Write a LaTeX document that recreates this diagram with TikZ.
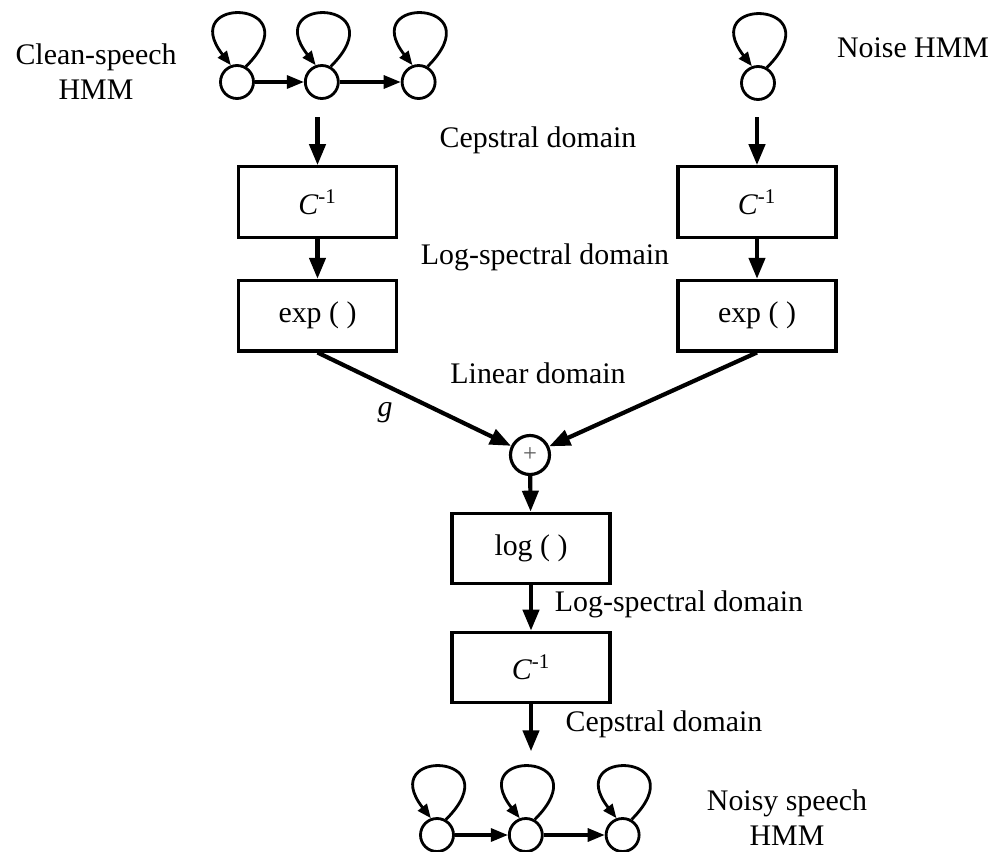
\documentclass[tikz,border=0pt]{standalone}
\usepackage{fontspec}
\setmainfont{Liberation Serif}
\usepackage{tikz}
\usetikzlibrary{shapes, arrows.meta,}
\usetikzlibrary{positioning}
\tikzset{
    process/.style = {
        rectangle,
        minimum width=3.16cm,
        minimum height=1.41cm,
        align=center,
        line width=1.8pt,
        draw,
    },
    hmmstate/.style = {
        circle,
        minimum size=0.66cm,
        inner sep=0pt,
        line width=1.6pt,
        draw,
    },
    adder/.style = {
        circle,
        minimum size=0.78cm,
        inner sep=0pt,
        line width=1.8pt,
        text=black!65,
        font=\fontsize{14}{14}\selectfont,
        draw,
    },
    domaintext/.style = {
        align=center,
    },
}
\tikzstyle{arrow} = [line width=2.4pt,->,>={Triangle[length=0.42cm,width=0.32cm]}]
\tikzstyle{hmmarrow} = [line width=1.8pt,->,>={Triangle[length=0.34cm,width=0.26cm]}]
\tikzstyle{selfloop} = [line width=1.6pt,->,>={Triangle[length=0.28cm,width=0.22cm]}]

\begin{document}
\begin{tikzpicture}[font=\fontsize{17}{20}\selectfont]
        \useasboundingbox (0,0) rectangle (19.88,-17.02);

        % clean-speech HMM
        \node(clean1) [hmmstate] at (4.74,-1.64) {};
        \node(clean2) [hmmstate, right = 0.98cm of clean1] {};
        \node(clean3) [hmmstate, right = 1.22cm of clean2] {};
        \node(cleanlabel) [domaintext] at (1.92,-1.44)
        {Clean-speech\\HMM};

        % noise HMM
        \node(noise1) [hmmstate] at (15.16,-1.66) {};
        \node(noiselabel) [domaintext] at (18.26,-0.96)
        {Noise HMM};

        % left and right branches
        \node(cinvL) [process] at (6.35,-4.04)
        {\textit{C}\textsuperscript{-1}};
        \node(expL) [process, below = 0.8cm of cinvL]
        {exp ( )};
        \node(cinvR) [process] at (15.14,-4.04)
        {\textit{C}\textsuperscript{-1}};
        \node(expR) [process, below = 0.8cm of cinvR]
        {exp ( )};
        \coordinate (cleanout) at ([yshift=0.96cm]cinvL.north);
        \coordinate (noiseout) at ([yshift=0.96cm]cinvR.north);

        % combination
        \node(plus) [adder] at (10.6,-9.1) {+};
        \node(logbox) [process] at (10.62,-10.97)
        {log ( )};
        \node(cinvC) [process] at (10.62,-13.35)
        {\textit{C}\textsuperscript{-1}};
        \coordinate (noisyin) at ([yshift=-0.94cm]cinvC.south);

        % noisy speech HMM
        \node(noisy1) [hmmstate] at (8.74,-16.7) {};
        \node(noisy2) [hmmstate, right = 1.06cm of noisy1] {};
        \node(noisy3) [hmmstate, right = 1.22cm of noisy2] {};
        \node(noisylabel) [domaintext] at (15.74,-16.36)
        {Noisy speech\\HMM};

        % domain labels
        \node(cep1) [domaintext] at (10.76,-2.8) {Cepstral domain};
        \node(logsp1) [domaintext] at (10.9,-5.14) {Log-spectral domain};
        \node(linear) [domaintext] at (10.76,-7.46) {Linear domain};
        \node(gain) [domaintext] at (7.7,-8.26) {\textit{g}};
        \node(logsp2) [domaintext] at (13.58,-12.08) {Log-spectral domain};
        \node(cep2) [domaintext] at (13.28,-14.48) {Cepstral domain};

        \draw [hmmarrow] (clean1) -- (clean2);
        \draw [hmmarrow] (clean2) -- (clean3);
        \draw [hmmarrow] (noisy1) -- (noisy2);
        \draw [hmmarrow] (noisy2) -- (noisy3);

        \draw [selfloop] (clean1.60) .. controls +(45:1.9) and +(128:1.8) .. (clean1.110);
        \draw [selfloop] (clean2.60) .. controls +(45:1.9) and +(128:1.8) .. (clean2.110);
        \draw [selfloop] (clean3.60) .. controls +(45:1.9) and +(128:1.8) .. (clean3.110);
        \draw [selfloop] (noise1.60) .. controls +(45:1.9) and +(128:1.8) .. (noise1.110);
        \draw [selfloop] (noisy1.60) .. controls +(45:1.9) and +(128:1.8) .. (noisy1.110);
        \draw [selfloop] (noisy2.60) .. controls +(45:1.9) and +(128:1.8) .. (noisy2.110);
        \draw [selfloop] (noisy3.60) .. controls +(45:1.9) and +(128:1.8) .. (noisy3.110);

        \draw [arrow] (cleanout) -- (cinvL);
        \draw [arrow] (cinvL) -- (expL);
        \draw [arrow] (noiseout) -- (cinvR);
        \draw [arrow] (cinvR) -- (expR);
        \draw [arrow] (expL.south) -- (plus);
        \draw [arrow] (expR.south) -- (plus);
        \draw [arrow] (plus) -- (logbox);
        \draw [arrow] (logbox) -- (cinvC);
        \draw [arrow] (cinvC) -- (noisyin);

    \end{tikzpicture}
\end{document}
